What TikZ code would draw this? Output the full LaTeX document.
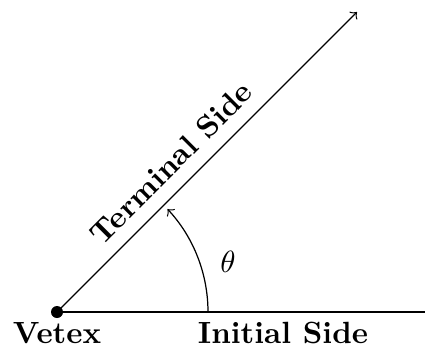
\documentclass[tikz,border=0pt]{standalone}
\begin{document}
\begin{tikzpicture}[x=0.326pt,y=0.326pt,
  lbl/.style={font=\bfseries, inner sep=0pt}]
\useasboundingbox (0,0) rectangle (426,350);
\coordinate (V) at (57,38);
\coordinate (T) at (357,338);
\coordinate (I) at (425,38);
\draw (V) -- (I);
\draw[->] (V) -- (T);
\draw[->] (208,38) arc[start angle=0, end angle=43, radius=151];
\fill (V) circle[radius=6];
\node[lbl] (vtx) at (57,17) {Vetex};
\node[lbl] (ini) at (283,17) {Initial Side};
\node[lbl, rotate=45] (ter) at (171,187) {Terminal Side};
\node[inner sep=0pt] (th) at (228,88) {$\theta$};
\end{tikzpicture}
\end{document}
